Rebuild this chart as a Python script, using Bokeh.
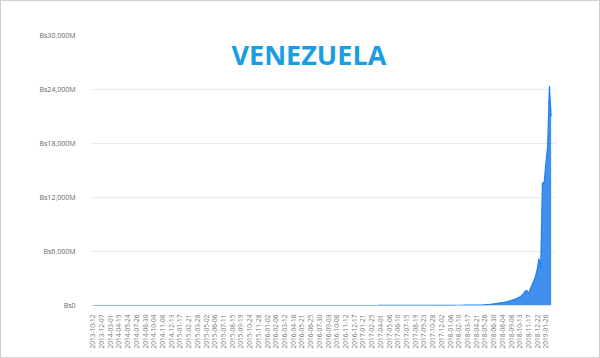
from bokeh.plotting import figure
from bokeh.models import Range1d, FixedTicker, Label
from bokeh.embed import file_html
from bokeh.resources import INLINE
from math import pi

# x tick labels (every 5th weekly observation)
date_labels = [
    "2013-10-12", "2013-12-07", "2014-03-01", "2014-04-19", "2014-05-24", "2014-07-26",
    "2014-08-30", "2014-10-04", "2014-11-08", "2014-12-13", "2015-01-17", "2015-02-21",
    "2015-03-28", "2015-05-02", "2015-06-06", "2015-07-11", "2015-08-15", "2015-09-19",
    "2015-10-24", "2015-11-28", "2016-01-02", "2016-02-06", "2016-03-12", "2016-04-16",
    "2016-05-21", "2016-06-25", "2016-07-30", "2016-09-03", "2016-10-08", "2016-11-12",
    "2016-12-17", "2017-01-21", "2017-02-25", "2017-04-01", "2017-05-06", "2017-06-10",
    "2017-07-15", "2017-08-19", "2017-09-23", "2017-10-28", "2017-12-02", "2018-01-06",
    "2018-02-10", "2018-03-17", "2018-04-21", "2018-05-26", "2018-06-30", "2018-08-04",
    "2018-09-08", "2018-10-13", "2018-11-17", "2018-12-22", "2019-01-26",
]

# values in millions of Bs, weekly
values_2013_2015 = [
    0.02, 0.02, 0.02, 0.02, 0.02, 0.02, 0.02, 0.02, 0.03, 0.03,
    0.03, 0.03, 0.03, 0.03, 0.03, 0.03, 0.03, 0.03, 0.03, 0.03,
    0.03, 0.03, 0.04, 0.04, 0.04, 0.04, 0.04, 0.04, 0.04, 0.04,
    0.04, 0.04, 0.04, 0.04, 0.04, 0.05, 0.05, 0.05, 0.05, 0.05,
    0.05, 0.05, 0.05, 0.05, 0.05, 0.05, 0.06, 0.06, 0.06, 0.06,
    0.06, 0.06, 0.06, 0.06, 0.07, 0.07, 0.07, 0.07, 0.07, 0.07,
    0.07, 0.08, 0.08, 0.08, 0.08, 0.08, 0.08, 0.09, 0.09, 0.09,
    0.09, 0.09, 0.10, 0.10, 0.10, 0.10, 0.10, 0.11, 0.11, 0.11,
    0.11, 0.12, 0.12, 0.12, 0.12, 0.13, 0.13, 0.13, 0.14, 0.14,
    0.14, 0.15, 0.15, 0.15, 0.16, 0.16, 0.17, 0.17, 0.18, 0.18,
]
values_2016_2017 = [
    0.19, 0.19, 0.20, 0.20, 0.21, 0.21, 0.22, 0.23, 0.23, 0.24,
    0.25, 0.26, 0.27, 0.28, 0.29, 0.30, 0.31, 0.32, 0.33, 0.35,
    0.36, 0.38, 0.39, 0.41, 0.43, 0.45, 0.47, 0.49, 0.51, 0.53,
    0.55, 0.58, 0.61, 0.64, 0.67, 0.70, 0.73, 0.77, 0.80, 0.84,
    0.88, 0.92, 0.97, 1.02, 1.07, 1.12, 1.18, 1.24, 1.30, 1.36,
    1.43, 1.50, 1.58, 1.66, 1.74, 1.83, 1.92, 2.02, 2.12, 2.23,
    2.34, 2.46, 2.58, 2.71, 2.85, 3.00, 3.15, 3.31, 3.48, 3.66,
    3.85, 4.05, 4.26, 4.48, 4.71, 4.95, 5.20, 5.47, 5.75, 6.05,
    6.36, 6.69, 7.03, 7.39, 7.77, 8.17, 8.59, 9.03, 9.50, 9.99,
    10.5, 11.0, 11.6, 12.2, 12.8, 13.5, 14.2, 14.9, 15.7, 16.5,
    17.3, 18.2, 19.1, 20.1, 21.1,
]
values_2018_2019 = [
    22, 23, 25, 26, 27, 28, 29, 30, 31, 32, 33, 34, 35, 37, 38,
    40, 45, 50, 55, 60, 70, 90, 110, 130, 150,
    180, 200, 230, 260, 300, 330, 360, 400, 440, 500,
    560, 620, 680, 740, 850, 950, 1100, 1300, 1550, 1700,
    1300, 1800, 2250, 2700, 3200, 4000, 5200, 4100, 13600, 13700,
    15800, 17700, 24400, 21000,
]

y_ticks = [0, 6000, 12000, 18000, 24000, 30000]
y_tick_labels = ["Bs0", "Bs6,000M", "Bs12,000M", "Bs18,000M", "Bs24,000M", "Bs30,000M"]
title_text = "VENEZUELA"

values = values_2013_2015 + values_2016_2017 + values_2018_2019
xs = list(range(len(values)))
label_pos = [5 * k for k in range(len(date_labels))]

p = figure(width=600, height=358, output_backend="svg", toolbar_location=None,
           x_range=Range1d(-1.3, 265.5), y_range=Range1d(0, 30000),
           min_border_left=89, min_border_right=46, min_border_top=34, min_border_bottom=54)
p.styles = {"border": "1px solid #cfcfcf", "box-sizing": "border-box"}
p.outline_line_color = None
p.background_fill_color = "white"
p.border_fill_color = "white"

p.varea(x=xs, y1=[0] * len(values), y2=values, fill_color="#4190ee", fill_alpha=1.0)
p.line(x=xs, y=values, line_color="#1f7ff0", line_width=1.2)

p.xgrid.visible = False
p.ygrid.grid_line_color = "#ebebeb"
p.ygrid.grid_line_width = 1

p.yaxis.ticker = FixedTicker(ticks=y_ticks)
p.yaxis.major_label_overrides = dict(zip(y_ticks, y_tick_labels))
p.yaxis.axis_line_color = None
p.yaxis.major_tick_line_color = None
p.yaxis.minor_tick_line_color = None
p.yaxis.major_label_text_font = "Open Sans"
p.yaxis.major_label_text_font_size = "7px"
p.yaxis.major_label_text_color = "#666666"
p.yaxis.major_label_standoff = 9

p.xaxis.ticker = FixedTicker(ticks=label_pos)
p.xaxis.major_label_overrides = dict(zip(label_pos, date_labels))
p.xaxis.major_label_orientation = pi / 2
p.xaxis.axis_line_color = None
p.xaxis.major_tick_line_color = None
p.xaxis.minor_tick_line_color = None
p.xaxis.major_label_text_font = "Open Sans"
p.xaxis.major_label_text_font_size = "6.5px"
p.xaxis.major_label_text_color = "#777777"
p.xaxis.major_label_standoff = 3

p.add_layout(Label(x=124, y=27850, text=title_text, text_align="center",
                   text_baseline="alphabetic", text_font="Open Sans",
                   text_font_style="bold", text_font_size="27px",
                   text_color="#1b9de2"))

open("out.html", "w").write(file_html(p, INLINE))
